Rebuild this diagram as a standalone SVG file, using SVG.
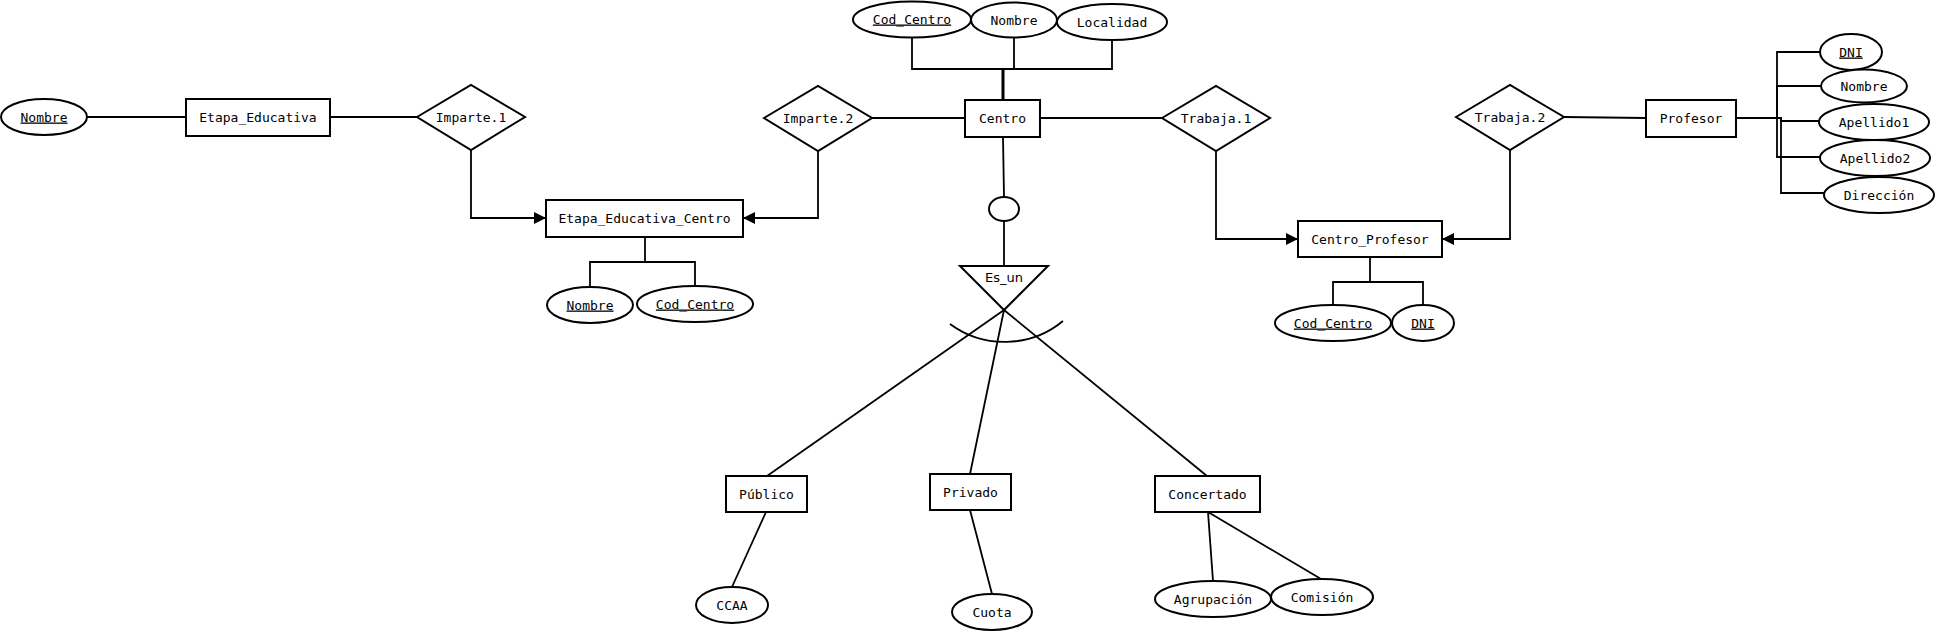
<svg xmlns="http://www.w3.org/2000/svg" width="1938" height="631" viewBox="0 0 1938 631">
<style>
.s{fill:#fff;stroke:#000;stroke-width:2}
.t{font-family:"DejaVu Sans Mono","Liberation Mono",monospace;font-size:13px;fill:#000;text-anchor:middle}
.k{text-decoration:underline;text-decoration-thickness:2px}
.e{fill:none;stroke:#000;stroke-width:1.8}
.sans{font-family:"DejaVu Sans","Liberation Sans",sans-serif}
</style>
<defs>
<marker id="arr" markerUnits="userSpaceOnUse" markerWidth="12" markerHeight="12" refX="12" refY="6" orient="auto"><path d="M0,0 L12,6 L0,12 z" fill="#000"/></marker>
</defs>
<rect width="1938" height="631" fill="#fff"/>
<g id="connectors" class="e">
<path d="M87,117 H186"/>
<path d="M330,117 H417"/>
<path d="M471,150 V218 H546" marker-end="url(#arr)"/>
<path d="M645,237 V262"/>
<path d="M590,287 V262 H695 V286"/>
<path d="M818,151 V218 H743" marker-end="url(#arr)"/>
<path d="M872,118 H965"/>
<path d="M912,37 V69 H1112 V40" />
<path d="M1014,37 V69"/>
<path d="M1003,69 V100" stroke-width="3"/>
<path d="M1040,118 H1162"/>
<path d="M1216,151 V239 H1298" marker-end="url(#arr)"/>
<path d="M1003,137 L1004,197"/>
<path d="M1004,221 V266"/>
<path d="M1004,310 L767,476"/>
<path d="M1004,310 L970,474"/>
<path d="M1004,310 L1207,476"/>
<path d="M766,512 L732,587"/>
<path d="M970,510 L992,594"/>
<path d="M1208,512 L1213,581"/>
<path d="M1208,512 L1321,579"/>
<path d="M1564,117 L1646,118"/>
<path d="M1510,150 V239 H1442" marker-end="url(#arr)"/>
<path d="M1370,257 V282"/>
<path d="M1333,305 V282 H1423 V305"/>
<path d="M1736,118 H1777 V52 H1820"/>
<path d="M1736,118 H1777 V86 H1821"/>
<path d="M1736,118 H1781 V121 H1819"/>
<path d="M1736,118 H1777 V157 H1820"/>
<path d="M1736,118 H1781 V193 H1824"/>
</g>
<g id="attr_ee_nombre"><ellipse class="s" cx="44" cy="117" rx="43" ry="18"/><text class="t k" x="44" y="121.5">Nombre</text></g>
<g id="etapa_educativa"><rect class="s" x="186" y="99" width="144" height="37"/><text class="t" x="258" y="122">Etapa_Educativa</text></g>
<g id="imparte1"><polygon class="s" points="417,117 471,85 525,117 471,150"/><text class="t" x="471" y="122">Imparte.1</text></g>
<g id="etapa_educativa_centro"><rect class="s" x="546" y="200" width="197" height="37"/><text class="t" x="644.5" y="223">Etapa_Educativa_Centro</text></g>
<g id="attr_eec_nombre"><ellipse class="s" cx="590" cy="305" rx="43" ry="18"/><text class="t k" x="590" y="309.5">Nombre</text></g>
<g id="attr_eec_cod"><ellipse class="s" cx="695" cy="304" rx="58" ry="18"/><text class="t k" x="695" y="308.5">Cod_Centro</text></g>
<g id="imparte2"><polygon class="s" points="764,118 818,86 872,118 818,151"/><text class="t" x="818" y="123">Imparte.2</text></g>
<g id="centro"><rect class="s" x="965" y="100" width="75" height="37"/><text class="t" x="1002.5" y="123">Centro</text></g>
<g id="attr_centro_cod"><ellipse class="s" cx="912" cy="19.5" rx="59" ry="18"/><text class="t k" x="912" y="23.5">Cod_Centro</text></g>
<g id="attr_centro_nombre"><ellipse class="s" cx="1014" cy="20" rx="43" ry="17.5"/><text class="t" x="1014" y="24.5">Nombre</text></g>
<g id="attr_centro_localidad"><ellipse class="s" cx="1112" cy="22" rx="55" ry="18"/><text class="t" x="1112" y="26.5">Localidad</text></g>
<g id="trabaja1"><polygon class="s" points="1162,118 1216,86 1270,118 1216,151"/><text class="t" x="1216" y="123">Trabaja.1</text></g>
<g id="disjoint_circle"><ellipse class="s" cx="1004" cy="209" rx="15" ry="12"/></g>
<g id="es_un"><polygon class="s" points="960,266 1048,266 1004,310"/><text class="t sans" x="1004" y="282">Es_un</text><path class="e" d="M950,324 A92,92 0 0 0 1063,321" stroke-width="2"/></g>
<g id="publico"><rect class="s" x="726" y="476" width="81" height="36"/><text class="t" x="766.5" y="498.5">Público</text></g>
<g id="privado"><rect class="s" x="930" y="474" width="81" height="36"/><text class="t" x="970.5" y="496.5">Privado</text></g>
<g id="concertado"><rect class="s" x="1155" y="476" width="105" height="36"/><text class="t" x="1207.5" y="498.5">Concertado</text></g>
<g id="attr_ccaa"><ellipse class="s" cx="732" cy="605" rx="36" ry="18"/><text class="t" x="732" y="609.5">CCAA</text></g>
<g id="attr_cuota"><ellipse class="s" cx="992" cy="612" rx="40" ry="18"/><text class="t" x="992" y="616.5">Cuota</text></g>
<g id="attr_agrupacion"><ellipse class="s" cx="1213" cy="599" rx="58" ry="18"/><text class="t" x="1213" y="603.5">Agrupación</text></g>
<g id="attr_comision"><ellipse class="s" cx="1322" cy="597" rx="51" ry="18"/><text class="t" x="1322" y="601.5">Comisión</text></g>
<g id="centro_profesor"><rect class="s" x="1298" y="221" width="144" height="36"/><text class="t" x="1370" y="243.5">Centro_Profesor</text></g>
<g id="attr_cp_cod"><ellipse class="s" cx="1333" cy="323" rx="58" ry="18"/><text class="t k" x="1333" y="327.5">Cod_Centro</text></g>
<g id="attr_cp_dni"><ellipse class="s" cx="1423" cy="323" rx="31" ry="18"/><text class="t k" x="1423" y="327.5">DNI</text></g>
<g id="trabaja2"><polygon class="s" points="1456,117 1510,85 1564,117 1510,150"/><text class="t" x="1510" y="122">Trabaja.2</text></g>
<g id="profesor"><rect class="s" x="1646" y="100" width="90" height="37"/><text class="t" x="1691" y="123">Profesor</text></g>
<g id="attr_prof_dni"><ellipse class="s" cx="1851" cy="52" rx="31" ry="18"/><text class="t k" x="1851" y="56.5">DNI</text></g>
<g id="attr_prof_nombre"><ellipse class="s" cx="1864" cy="86" rx="43" ry="16.5"/><text class="t" x="1864" y="90.5">Nombre</text></g>
<g id="attr_prof_apellido1"><ellipse class="s" cx="1874" cy="122" rx="55" ry="18"/><text class="t" x="1874" y="126.5">Apellido1</text></g>
<g id="attr_prof_apellido2"><ellipse class="s" cx="1875" cy="158" rx="55" ry="18"/><text class="t" x="1875" y="162.5">Apellido2</text></g>
<g id="attr_prof_direccion"><ellipse class="s" cx="1879" cy="195" rx="55" ry="18"/><text class="t" x="1879" y="199.5">Dirección</text></g>
</svg>
